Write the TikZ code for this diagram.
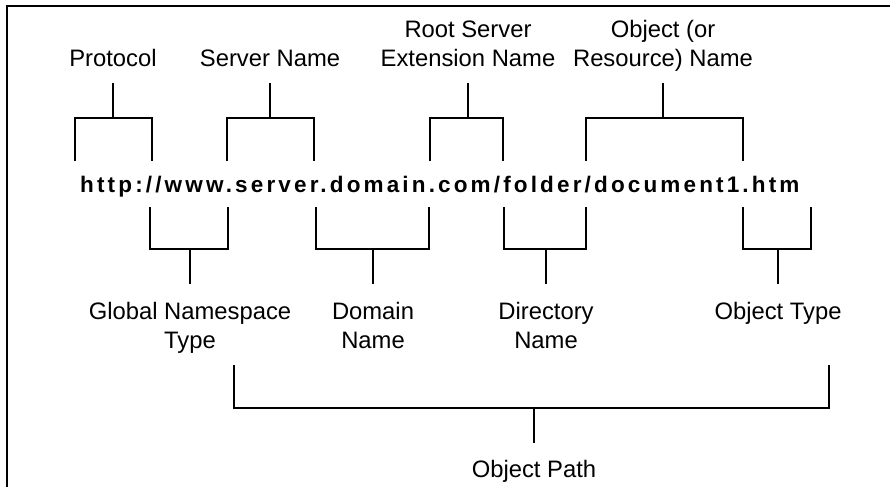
\documentclass[tikz,border=0pt]{standalone}
\usepackage{fontspec}
\setmainfont{Liberation Sans}
\newfontfamily\urlfont[LetterSpace=14]{Liberation Sans}
\usepackage{tikz}
\tikzset{>=latex}
% bracket over the url: left leg, right leg, stem
\newcommand{\upbrack}[3]{\draw[brk](#1,161)--(#1,118)--(#2,118)--(#2,161);
    \draw[brk](#3,118)--(#3,83);}
% bracket under the url
\newcommand{\downbrack}[3]{\draw[brk](#1,207)--(#1,249)--(#2,249)--(#2,207);
    \draw[brk](#3,249)--(#3,284);}

\begin{document}
\begin{tikzpicture}[x=1pt, y=-1pt,
    brk/.style={line width=2.3pt},
    lbl/.style={inner sep=0pt, align=center, text depth=0pt, font=\fontsize{23.8}{29.5}\selectfont},
    url/.style={inner sep=0pt, font=\urlfont\bfseries\fontsize{22.5}{26}\selectfont}]
    \useasboundingbox(0, 0) rectangle (890, 487);
    \draw[line width=2pt](7, 487)--(7, 6)--(890, 6);
    \node[url, anchor=base west](link) at (80, 192) {http://www.server.domain.com/folder/document1.htm};
    % names above
    \node[lbl, anchor=south](proto) at (113, 67) {Protocol};
    \node[lbl, anchor=south](server) at (270, 67) {Server Name};
    \node[lbl, anchor=south](rootext) at (468, 67) {Root Server\\Extension Name};
    \node[lbl, anchor=south](objname) at (663, 67) {Object (or\\Resource) Name};
    \upbrack{75}{152}{113}
    \upbrack{227}{314}{270}
    \upbrack{430}{503}{468}
    \upbrack{586}{743}{663}
    % names below
    \downbrack{150}{228}{190}
    \downbrack{316}{429}{373}
    \downbrack{504}{586}{546}
    \downbrack{743}{811}{778}
    \node[lbl, anchor=north](gns) at (190, 302) {Global Namespace\\Type};
    \node[lbl, anchor=north](domain) at (373, 302) {Domain\\Name};
    \node[lbl, anchor=north](dir) at (546, 302) {Directory\\Name};
    \node[lbl, anchor=north](objtype) at (778, 302) {Object Type};
    \draw[brk](234, 365)--(234, 408)--(829, 408)--(829, 365);
    \draw[brk](534, 408)--(534, 443);
    \node[lbl, anchor=north](objpath) at (534, 460) {Object Path};
\end{tikzpicture}
\end{document}
